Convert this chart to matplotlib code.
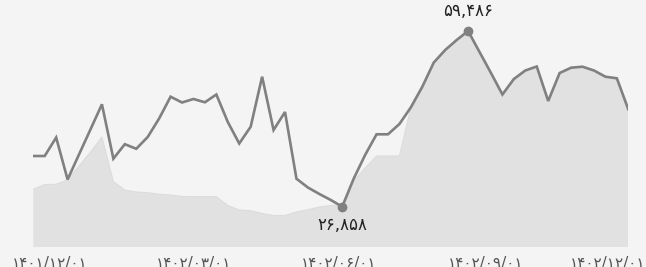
import matplotlib
matplotlib.use("Agg")
import matplotlib.pyplot as plt
import numpy as np

plt.rcParams['font.family'] = ['DejaVu Sans']

# weekly series (main line) and the lighter filled series underneath
price = [36273, 36273, 39708, 31909, 36570, 41213, 45874, 35772, 38464, 37610,
         39801, 43237, 47285, 46208, 46858, 46245, 47694, 42587, 38594, 41714,
         50999, 41101, 44444, 32058, 30423, 29216, 28102, 26858, 32058, 36459,
         40303, 40303, 42215, 45317, 49142, 53636, 55957, 57814, 59486, 55586,
         51686, 47694, 50572, 52150, 52893, 46486, 51686, 52670, 52856, 52150,
         50999, 50702, 44945]
base = [30089, 30981, 31018, 31816, 34416, 37016, 39801, 31538, 29959, 29588,
        29458, 29161, 29031, 28752, 28715, 28715, 28715, 27081, 26245, 26115,
        25595, 25224, 25224, 25874, 26301, 26802, 27081, 27267, 31630, 34045,
        36273, 36273, 36273] + price[33:]
tick_labels = ["۱۴۰۱/۱۲/۰۱", "۱۴۰۲/۰۳/۰۱", "۱۴۰۲/۰۶/۰۱", "۱۴۰۲/۰۹/۰۱", "۱۴۰۲/۱۲/۰۱"]
tick_pos = [1.46, 14.0, 26.7, 39.5, 50.2]

def fa(n):
    return f"{n:,}".translate(str.maketrans("0123456789", "۰۱۲۳۴۵۶۷۸۹"))

BG = "#f4f4f4"
x = np.arange(len(price))
fig = plt.figure(figsize=(6.46, 2.67), dpi=100, facecolor=BG)
ax = fig.add_axes([0.0515, 0.0738, 0.9211, 0.9262], facecolor=BG)

ax.fill_between(x, base, 0, color="#e1e1e1", lw=0)
ax.plot(x, base, color="#dcdcdc", lw=0.8)
ax.plot(x, price, color="#808080", lw=1.9, solid_joinstyle="miter", zorder=3)

imax = int(np.argmax(price)); imin = int(np.argmin(price))
ax.plot([imax, imin], [price[imax], price[imin]], "o", color="#808080", ms=6, zorder=4)
ax.annotate(fa(price[imax]), (imax, price[imax]), xytext=(0, 14.5), textcoords="offset points",
            ha="center", va="center", fontsize=12, color="#222")
ax.annotate(fa(price[imin]), (imin, price[imin]), xytext=(0, -13.5), textcoords="offset points",
            ha="center", va="center", fontsize=12, color="#222")

ax.set_xlim(0, len(price) - 1)
ax.set_ylim(19318, 65243)
ax.set_xticks(tick_pos, tick_labels)
ax.tick_params(axis="x", length=0, pad=6, labelsize=11, labelcolor="#555")
ax.set_yticks([])
for s in ax.spines.values():
    s.set_visible(False)

fig.savefig("out.png", dpi=100, facecolor=BG)
